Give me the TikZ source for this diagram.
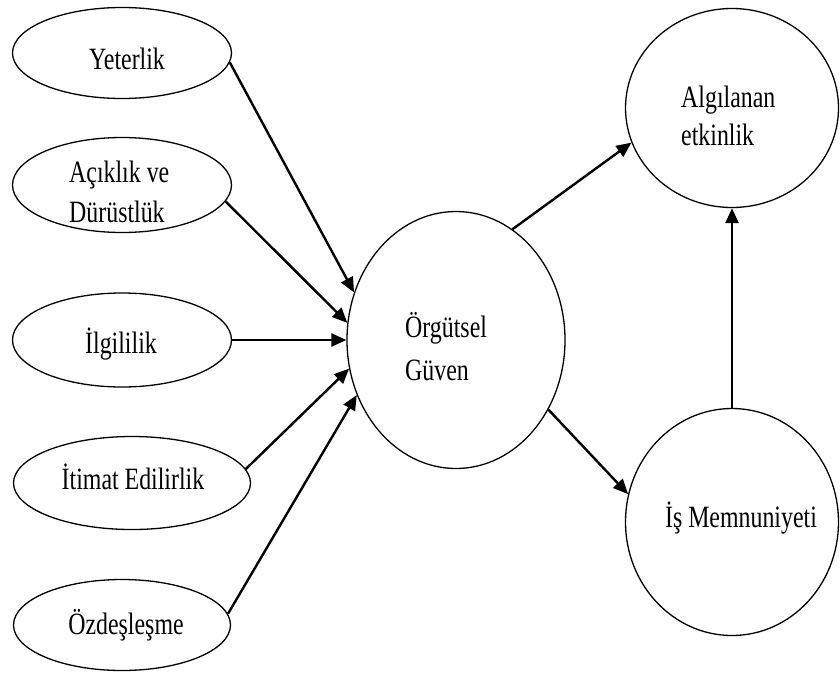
\documentclass[tikz,border=0pt]{standalone}
\usepackage{fontspec}
\setmainfont[FakeStretch=0.77]{Liberation Serif}
\usetikzlibrary{shapes.geometric,arrows.meta}

\begin{document}
\begin{tikzpicture}[x=1pt,y=-1pt,
  oval/.style={ellipse, draw, line width=1.3pt, inner sep=0pt},
  lbl/.style={inner sep=0pt, font=\fontsize{31}{40}\selectfont},
  link/.style={line width=2.4pt, -{Triangle[length=15pt,width=13pt]}},
]
\useasboundingbox (0,0) rectangle (840,672);

% antecedents of organisational trust
\node[oval, minimum width=219pt, minimum height=91pt] (yet)  at (122,53)  {};
\node[oval, minimum width=219pt, minimum height=95pt] (acik) at (122,185) {};
\node[oval, minimum width=219pt, minimum height=94pt] (ilg)  at (122,340) {};
\node[oval, minimum width=237pt, minimum height=93pt] (itim) at (132,483) {};
\node[oval, minimum width=217pt, minimum height=91pt] (ozd)  at (122,625) {};

% central construct and outcomes
\node[oval, minimum width=218pt, minimum height=257pt] (og)  at (456,340) {};
\node[oval, minimum width=213pt, minimum height=199pt] (alg) at (732,108) {};
\node[oval, minimum width=213pt, minimum height=227pt] (is)  at (732,522) {};

% labels
\node[lbl, anchor=base] (yet-t) at (127,69) {Yeterlik};
\node[lbl, anchor=base west] (acik-t1) at (69,182) {Açıklık ve};
\node[lbl, anchor=base west] (acik-t2) at (69,222) {Dürüstlük};
\node[lbl, anchor=base] (ilg-t) at (121,353) {İlgililik};
\node[lbl, anchor=base] (itim-t) at (133,489) {İtimat Edilirlik};
\node[lbl, anchor=base] (ozd-t) at (126,634) {Özdeşleşme};
\node[lbl, anchor=base west] (og-t1) at (405,337) {Örgütsel};
\node[lbl, anchor=base west] (og-t2) at (405,380) {Güven};
\node[lbl, anchor=base west] (alg-t1) at (681,107) {Algılanan};
\node[lbl, anchor=base west] (alg-t2) at (681,145) {etkinlik};
\node[lbl, anchor=base] (is-t) at (741,527) {İş Memnuniyeti};

% paths
\draw[link] (yet.-5)  -- (og.155);
\draw[link] (acik.-9) -- (og.171);
\draw[link] (ilg.east) -- (og.west);
\draw[link] (itim.7)  -- (og.195);
\draw[link] (ozd.6)   -- (og.209);
\draw[link] (og.63)   -- (alg.199);
\draw[link] (og.-37)  -- (is.165);
\draw[link] (is.north) -- (alg.south);
\end{tikzpicture}
\end{document}
